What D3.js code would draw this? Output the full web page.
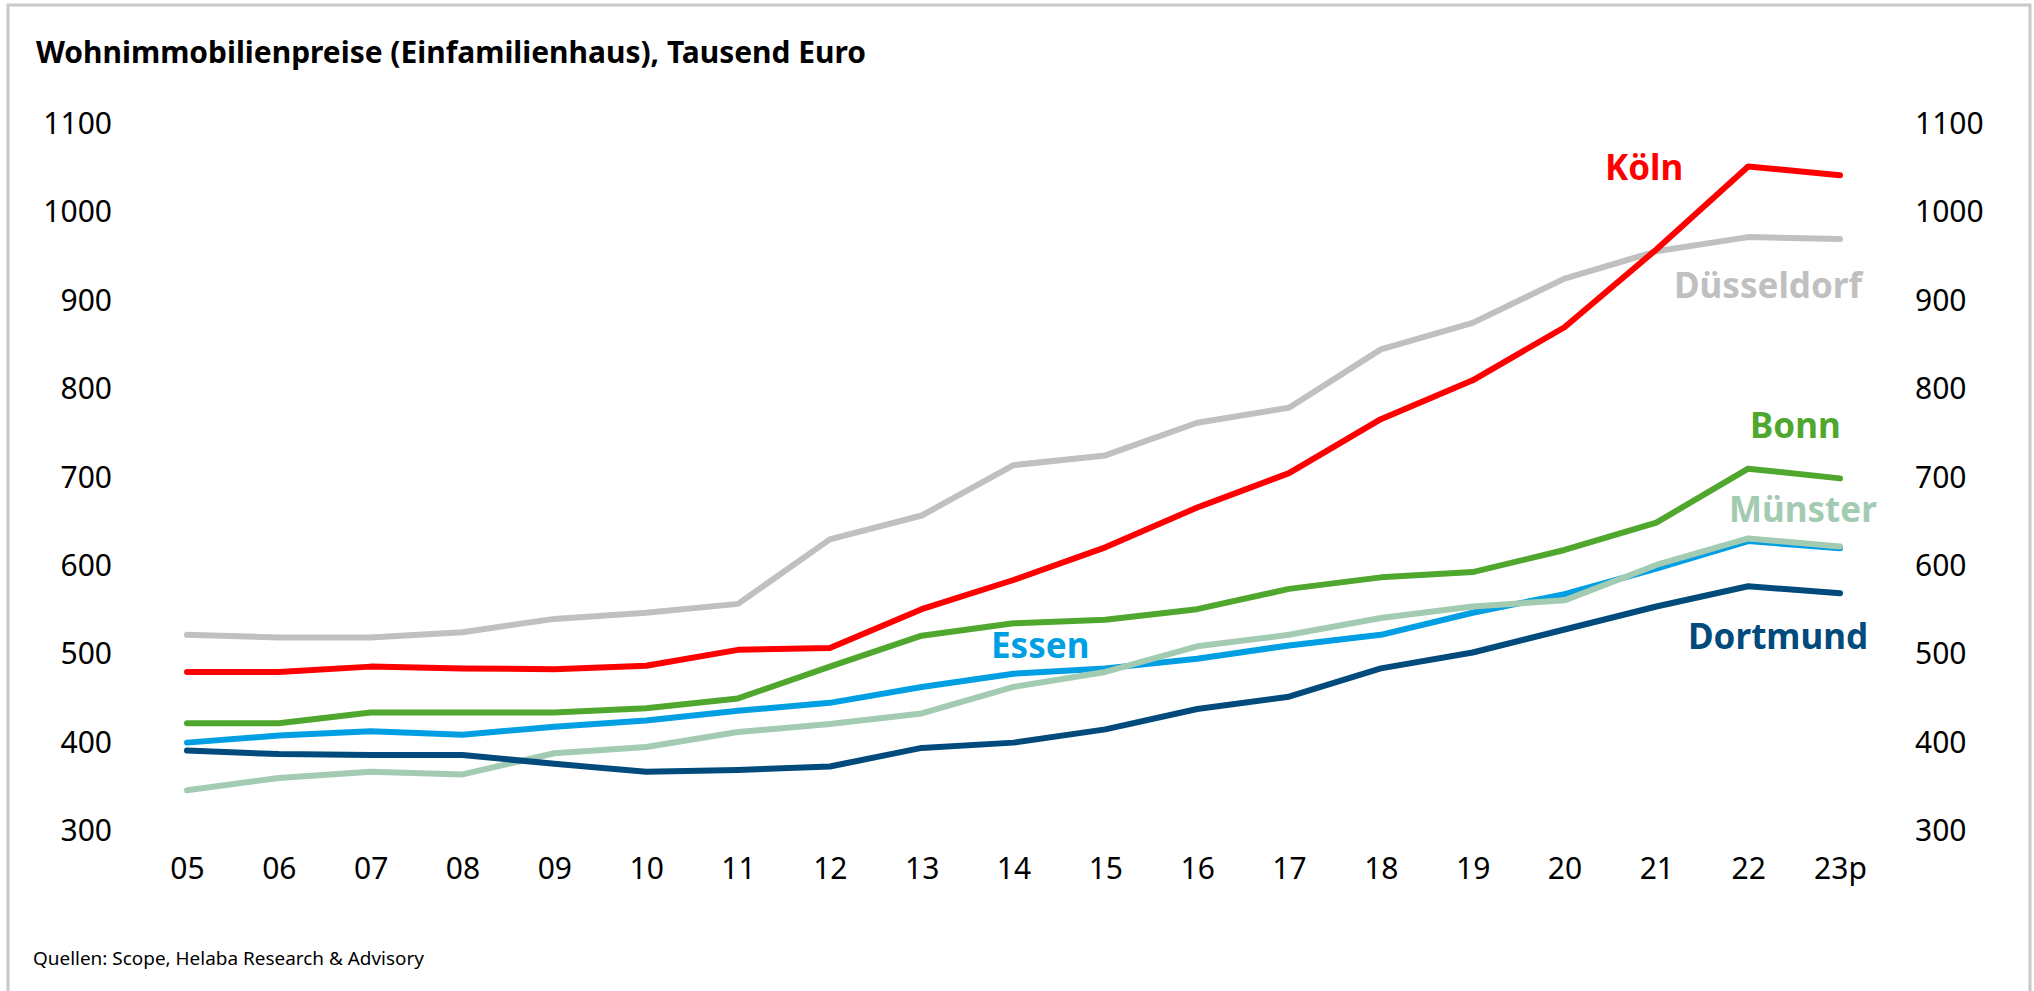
<!DOCTYPE html>
<html>
<head>
<meta charset="utf-8">
<script src="https://cdn.jsdelivr.net/npm/d3@7"></script>
<style>
  html, body { margin: 0; padding: 0; background: #fff; }
  svg { display: block; font-family: "Noto Sans", "Open Sans", sans-serif; }
</style>
</head>
<body>
<div id="chart"></div>
<script>
const W = 2034;
const H = 991;

// Jahre (x-Achse)
const years = ["05", "06", "07", "08", "09", "10", "11", "12", "13", "14", "15", "16", "17", "18", "19", "20", "21", "22", "23p"];
const yTicks = [300, 400, 500, 600, 700, 800, 900, 1000, 1100];

// Tausend Euro
const duesseldorf = [522, 519, 519, 525, 540, 547, 557, 630, 657, 714, 725, 762, 779, 845, 875, 925, 956, 972, 970];
const essen       = [400, 408, 413, 409, 418, 425, 436, 445, 463, 478, 484, 495, 510, 522, 547, 568, 597, 628, 620];
const muenster    = [346, 360, 367, 364, 388, 395, 412, 421, 433, 463, 480, 509, 522, 541, 554, 561, 601, 631, 622];
const dortmund    = [391, 387, 386, 386, 376, 367, 369, 373, 394, 400, 415, 438, 452, 484, 502, 528, 554, 577, 569];
const bonn        = [422, 422, 434, 434, 434, 439, 450, 486, 521, 535, 539, 551, 574, 587, 593, 618, 649, 710, 699];
const koeln       = [480, 480, 486, 484, 483, 487, 505, 507, 551, 584, 621, 666, 705, 766, 810, 870, 958, 1052, 1042];

// draw order: first is at the back
const series = [
    { name: "Düsseldorf", values: duesseldorf, color: "#c0c0c0" },
    { name: "Essen", values: essen, color: "#009fe3" },
    { name: "Münster", values: muenster, color: "#a2cbb2" },
    { name: "Dortmund", values: dortmund, color: "#004a7c" },
    { name: "Bonn", values: bonn, color: "#4fa82d" },
    { name: "Köln", values: koeln, color: "#ff0000" },
];

// where the city names sit (left edge, baseline)
const labelPos = {
    "Köln": [1605, 180],
    "Düsseldorf": [1674, 298],
    "Bonn": [1750, 438],
    "Münster": [1729, 522],
    "Dortmund": [1688, 649],
    "Essen": [991, 658],
};

const svg = d3.select("#chart")
    .append("svg")
    .attr("width", W)
    .attr("height", H);

// frame
svg.append("path")
    .attr("d", `M8,${H} L8,5 L2030,5 L2030,${H}`)
    .attr("fill", "none")
    .attr("stroke", "#c8c8c8")
    .attr("stroke-width", 3);

svg.append("text")
    .attr("x", 36)
    .attr("y", 63)
    .attr("font-size", 30)
    .attr("font-weight", 700)
    .attr("textLength", 830)
    .attr("lengthAdjust", "spacingAndGlyphs")
    .attr("fill", "#000")
    .text("Wohnimmobilienpreise (Einfamilienhaus), Tausend Euro");

svg.append("text")
    .attr("x", 33)
    .attr("y", 965)
    .attr("font-size", 18)
    .attr("textLength", 391)
    .attr("lengthAdjust", "spacingAndGlyphs")
    .attr("fill", "#000")
    .text("Quellen: Scope, Helaba Research & Advisory");

const x = d3.scalePoint().domain(years).range([187, 1840]);
const y = d3.scaleLinear().domain([300, 1100]).range([831, 124]);

const fmt = d3.format("d");

const left = svg.append("g")
    .attr("transform", "translate(112,0)")
    .call(d3.axisLeft(y).tickValues(yTicks).tickFormat(fmt).tickSize(0).tickPadding(0));
const right = svg.append("g")
    .attr("transform", "translate(1915,0)")
    .call(d3.axisRight(y).tickValues(yTicks).tickFormat(fmt).tickSize(0).tickPadding(0));
const bottom = svg.append("g")
    .attr("transform", "translate(0,858)")
    .call(d3.axisBottom(x).tickSize(0).tickPadding(0));

for (let g of [left, right, bottom]) {
    g.select(".domain").remove();
    g.selectAll("text")
        .attr("font-family", "'Noto Sans', sans-serif")
        .attr("font-size", 30)
        .attr("fill", "#000");
}
bottom.selectAll("text").attr("y", 21).attr("dy", null);

const line = d3.line()
    .x((d, i) => x(years[i]))
    .y((d) => y(d));

svg.append("g")
    .selectAll("path")
    .data(series)
    .join("path")
    .attr("d", (d) => line(d.values))
    .attr("fill", "none")
    .attr("stroke", (d) => d.color)
    .attr("stroke-width", 6)
    .attr("stroke-linecap", "round")
    .attr("stroke-linejoin", "round");

svg.append("g")
    .selectAll("text")
    .data(series)
    .join("text")
    .attr("x", (d) => labelPos[d.name][0])
    .attr("y", (d) => labelPos[d.name][1])
    .attr("font-size", 35)
    .attr("font-weight", 700)
    .attr("fill", (d) => d.color)
    .text((d) => d.name);
</script>
</body>
</html>
